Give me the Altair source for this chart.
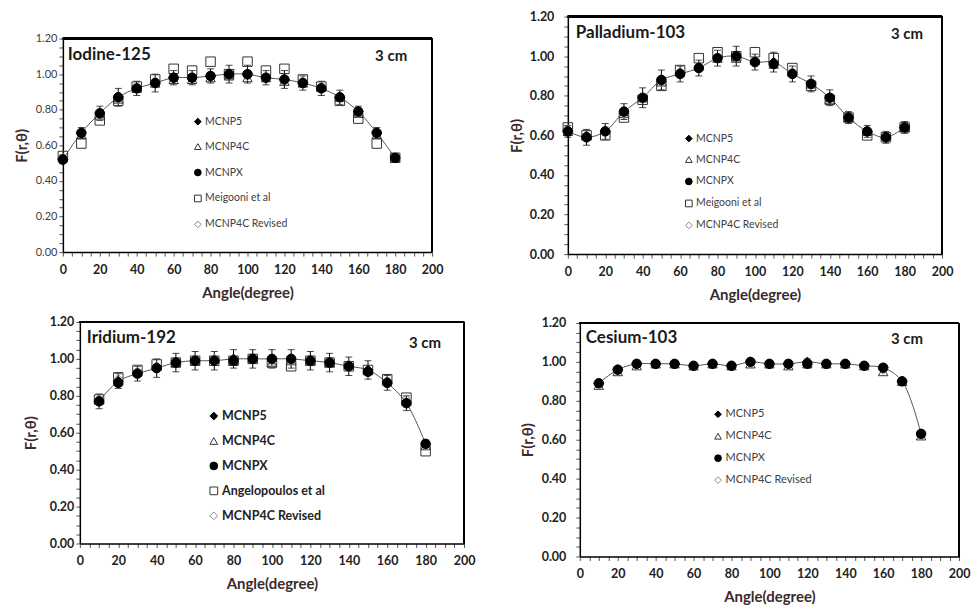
import altair as alt
import pandas as pd

FONT = "Lato"

# ---------------- data ----------------
angles_full = [0, 10, 20, 30, 40, 50, 60, 70, 80, 90, 100, 110, 120, 130, 140, 150, 160, 170, 180]
angles_part = [10, 20, 30, 40, 50, 60, 70, 80, 90, 100, 110, 120, 130, 140, 150, 160, 170, 180]

# Iodine-125
i_mcnp5 = [0.52, 0.67, 0.78, 0.87, 0.92, 0.95, 0.98, 0.98, 0.99, 1.00, 1.00, 0.98, 0.97, 0.95, 0.92, 0.87, 0.79, 0.67, 0.53]
i_mcnp4c = [0.53, 0.66, 0.77, 0.86, 0.92, 0.95, 0.97, 0.97, 0.98, 0.99, 0.98, 0.98, 0.96, 0.95, 0.93, 0.87, 0.78, 0.66, 0.53]
i_mcnpx = [0.52, 0.67, 0.78, 0.87, 0.92, 0.95, 0.98, 0.98, 0.99, 1.00, 1.00, 0.98, 0.97, 0.95, 0.92, 0.87, 0.79, 0.67, 0.53]
i_ref = [0.54, 0.61, 0.74, 0.85, 0.93, 0.97, 1.03, 1.02, 1.07, 1.00, 1.07, 1.02, 1.03, 0.97, 0.93, 0.85, 0.75, 0.61, 0.53]
i_rev = [0.53, 0.67, 0.77, 0.86, 0.92, 0.96, 0.98, 0.98, 0.99, 1.00, 0.99, 0.98, 0.97, 0.96, 0.93, 0.87, 0.78, 0.67, 0.53]
i_err = [0.02, 0.03, 0.04, 0.05, 0.04, 0.05, 0.04, 0.04, 0.04, 0.05, 0.05, 0.04, 0.05, 0.04, 0.04, 0.04, 0.03, 0.03, 0.02]

# Palladium-103
p_mcnp5 = [0.62, 0.59, 0.62, 0.72, 0.79, 0.88, 0.91, 0.94, 0.99, 1.00, 0.97, 0.97, 0.91, 0.86, 0.79, 0.69, 0.62, 0.59, 0.64]
p_mcnp4c = [0.62, 0.60, 0.63, 0.71, 0.79, 0.87, 0.92, 0.95, 0.99, 0.99, 0.98, 0.96, 0.92, 0.86, 0.78, 0.69, 0.62, 0.60, 0.64]
p_mcnpx = [0.62, 0.59, 0.62, 0.72, 0.79, 0.88, 0.91, 0.94, 0.99, 1.00, 0.97, 0.96, 0.91, 0.86, 0.79, 0.69, 0.62, 0.59, 0.64]
p_ref = [0.64, 0.60, 0.60, 0.69, 0.78, 0.85, 0.93, 0.99, 1.02, 1.00, 1.02, 0.99, 0.94, 0.85, 0.78, 0.69, 0.60, 0.59, 0.64]
p_rev = [0.63, 0.60, 0.62, 0.71, 0.79, 0.87, 0.92, 0.95, 0.99, 1.00, 0.98, 0.97, 0.92, 0.86, 0.79, 0.69, 0.62, 0.59, 0.64]
p_err = [0.03, 0.04, 0.04, 0.04, 0.05, 0.05, 0.04, 0.04, 0.04, 0.05, 0.04, 0.05, 0.04, 0.04, 0.04, 0.03, 0.03, 0.03, 0.03]

# Iridium-192
r_mcnp5 = [0.77, 0.88, 0.92, 0.95, 0.98, 0.99, 0.99, 1.00, 1.00, 1.00, 1.00, 0.99, 0.98, 0.96, 0.94, 0.87, 0.76, 0.54]
r_mcnp4c = [0.78, 0.88, 0.93, 0.96, 0.98, 0.99, 1.00, 0.99, 1.00, 0.98, 0.99, 0.99, 0.98, 0.97, 0.94, 0.88, 0.77, 0.53]
r_mcnpx = [0.77, 0.87, 0.92, 0.95, 0.98, 0.99, 0.99, 0.99, 1.00, 1.00, 1.00, 0.99, 0.98, 0.96, 0.93, 0.87, 0.76, 0.54]
r_ref = [0.78, 0.90, 0.94, 0.97, 0.98, 0.99, 0.99, 0.99, 1.00, 0.98, 0.96, 0.99, 0.98, 0.96, 0.94, 0.89, 0.79, 0.50]
r_rev = [0.78, 0.89, 0.93, 0.96, 0.98, 0.99, 1.00, 1.00, 1.00, 0.98, 0.99, 0.99, 0.98, 0.97, 0.94, 0.88, 0.78, 0.53]
r_err = [0.04, 0.04, 0.04, 0.05, 0.05, 0.05, 0.05, 0.05, 0.05, 0.05, 0.05, 0.05, 0.05, 0.05, 0.05, 0.04, 0.04, 0.02]

# Cesium-103
c_mcnp5 = [0.89, 0.96, 0.99, 0.99, 0.99, 0.98, 0.99, 0.98, 1.00, 0.99, 0.99, 1.00, 0.99, 0.99, 0.98, 0.97, 0.90, 0.63]
c_mcnp4c = [0.88, 0.95, 0.98, 0.99, 0.99, 0.98, 0.99, 0.98, 0.99, 0.99, 0.98, 0.99, 0.99, 0.99, 0.98, 0.95, 0.90, 0.62]
c_mcnpx = [0.89, 0.96, 0.99, 0.99, 0.99, 0.98, 0.99, 0.98, 1.00, 0.99, 0.99, 0.99, 0.99, 0.99, 0.98, 0.97, 0.90, 0.63]
c_rev = [0.89, 0.96, 0.99, 0.99, 0.99, 0.98, 0.99, 0.98, 1.00, 0.99, 0.99, 1.00, 0.99, 0.99, 0.98, 0.96, 0.90, 0.63]
c_err = [0.015, 0.015, 0.015, 0.015, 0.015, 0.015, 0.015, 0.015, 0.015, 0.015, 0.015, 0.015, 0.015, 0.015, 0.015, 0.015, 0.015, 0.015]

x_ticks = list(range(0, 201, 5))
y_ticks = [round(v * 0.05, 2) for v in range(0, 25)]
X_MAX, Y_MAX = 200, 1.2


def panel(title, angles, mcnp5, mcnp4c, mcnpx, ref, ref_name, rev, err,
          width, height, x0, y0, ylab_bold, ylab_size, ylab_pad, ytitle_pad,
          leg_x, leg_y, leg_font, leg_bold, leg_row, leg_sym,
          name_xy, cm_xy):
    series = [("MCNP5", mcnp5), ("MCNP4C", mcnp4c), ("MCNPX", mcnpx)]
    if ref is not None:
        series.append((ref_name, ref))
    series.append(("MCNP4C Revised", rev))
    domain = [s[0] for s in series]
    shapes = {"MCNP5": "diamond", "MCNP4C": "triangle-up", "MCNPX": "circle",
              "MCNP4C Revised": "diamond"}
    fills = {"MCNP5": "black", "MCNP4C": "transparent", "MCNPX": "black",
             "MCNP4C Revised": "transparent"}
    strokes = {"MCNP5": "black", "MCNP4C": "#333333", "MCNPX": "black",
               "MCNP4C Revised": "#8a8a8a"}
    if ref is not None:
        shapes[ref_name] = "square"
        fills[ref_name] = "transparent"
        strokes[ref_name] = "#333333"

    draw_order = ([ref_name] if ref is not None else []) + ["MCNP4C", "MCNP4C Revised", "MCNPX", "MCNP5"]
    vals = dict(series)
    rows = []
    for k, name in enumerate(draw_order):
        for a, v in zip(angles, vals[name]):
            rows.append({"angle": a, "F": v, "series": name, "o": k})
    pts = pd.DataFrame(rows)

    base_df = pd.DataFrame({"angle": angles, "F": mcnp5,
                            "lo": [v - e for v, e in zip(mcnp5, err)],
                            "hi": [v + e for v, e in zip(mcnp5, err)]})

    xsc = alt.Scale(domain=[0, X_MAX], range=[x0, width], nice=False)
    ysc = alt.Scale(domain=[0, Y_MAX], range=[height, y0], nice=False)
    xax = alt.Axis(values=x_ticks, title="Angle(degree)",
                   labelExpr="datum.value % 20 == 0 ? format(datum.value, 'd') : ''",
                   labelFont=FONT, labelFontSize=12.5, labelFontWeight="bold", labelColor="#222222",
                   labelPadding=7, tickSize=4, tickColor="#555555",
                   titleFont=FONT, titleFontSize=15, titleFontWeight="bold", titleColor="#3a2a2a",
                   titlePadding=10, domainColor="black", domainWidth=1.5, grid=False,
                   labelOverlap=False, labelFlush=False)
    yax_kw = dict(values=y_ticks, title="F(r,θ)",
                  labelExpr="round(datum.value * 100) % 20 == 0 ? format(datum.value, '.2f') : ''",
                  labelFont=FONT, labelFontSize=ylab_size,
                  labelFontWeight="bold" if ylab_bold else "normal",
                  labelColor="#222222" if ylab_bold else "#404040",
                  labelPadding=ylab_pad, tickSize=4, tickColor="#555555",
                  titleFont=FONT, titleFontSize=15, titleFontWeight="bold", titleColor="#3a2a2a",
                  titlePadding=ytitle_pad, domainColor="black", domainWidth=1.5, grid=False,
                  labelOverlap=False, labelFlush=False)
    if x0 > 0:
        yax_kw["offset"] = -x0
    yax = alt.Axis(**yax_kw)
    X = alt.X("angle:Q", scale=xsc, axis=xax)
    Y = alt.Y("F:Q", scale=ysc, axis=yax)

    # frame (top and right edges) in data coordinates
    top_edge = alt.Chart(base_df).mark_rule(color="black", strokeWidth=1.5).encode(
        x=alt.datum(0, scale=xsc, axis=xax), x2=alt.datum(X_MAX), y=alt.datum(Y_MAX, scale=ysc, axis=yax))
    right_edge = alt.Chart(base_df).mark_rule(color="black", strokeWidth=1.5).encode(
        x=alt.datum(X_MAX, scale=xsc, axis=xax), y=alt.datum(0, scale=ysc, axis=yax), y2=alt.datum(Y_MAX))

    line = alt.Chart(base_df).mark_line(interpolate="catmull-rom", color="#555555", strokeWidth=1).encode(
        x=X, y=Y)
    bars = alt.Chart(base_df).mark_rule(color="black", strokeWidth=1).encode(
        x=X, y=alt.Y("lo:Q", scale=ysc, axis=yax), y2="hi:Q")
    cap_lo = alt.Chart(base_df).mark_tick(color="black", orient="horizontal", size=7, thickness=1).encode(
        x=X, y=alt.Y("lo:Q", scale=ysc, axis=yax))
    cap_hi = alt.Chart(base_df).mark_tick(color="black", orient="horizontal", size=7, thickness=1).encode(
        x=X, y=alt.Y("hi:Q", scale=ysc, axis=yax))

    leg = alt.Legend(title=None, orient="none", legendX=leg_x + x0, legendY=leg_y + y0, padding=0,
                     labelFont=FONT, labelFontSize=leg_font,
                     labelFontWeight="bold" if leg_bold else "normal",
                     labelColor="#222222" if leg_bold else "#404040",
                     rowPadding=leg_row, symbolSize=leg_sym, symbolStrokeWidth=1,
                     labelOffset=2, labelLimit=200, symbolOpacity=1)
    points = alt.Chart(pts).mark_point(size=90, strokeWidth=1, opacity=1).encode(
        x=X, y=Y,
        shape=alt.Shape("series:N", scale=alt.Scale(domain=domain, range=[shapes[d] for d in domain]), legend=leg),
        fill=alt.Fill("series:N", scale=alt.Scale(domain=domain, range=[fills[d] for d in domain]), legend=leg),
        stroke=alt.Stroke("series:N", scale=alt.Scale(domain=domain, range=[strokes[d] for d in domain]), legend=leg),
        order="o:Q",
    )
    name_txt = alt.Chart(pd.DataFrame({"t": [title]})).mark_text(
        align="left", baseline="middle", font=FONT, fontSize=17, fontWeight="bold", color="#1a1a1a").encode(
        text="t:N", x=alt.value(name_xy[0] + x0), y=alt.value(name_xy[1] + y0))
    cm_txt = alt.Chart(pd.DataFrame({"t": ["3 cm"]})).mark_text(
        align="right", baseline="middle", font=FONT, fontSize=15, fontWeight="bold", color="#1a1a1a").encode(
        text="t:N", x=alt.value(cm_xy[0] + x0), y=alt.value(cm_xy[1] + y0))

    return alt.layer(top_edge, right_edge, line, bars, cap_lo, cap_hi, points, name_txt, cm_txt).properties(
        width=width, height=height)


iodine = panel("Iodine-125", angles_full, i_mcnp5, i_mcnp4c, i_mcnpx, i_ref, "Meigooni et al", i_rev, i_err,
               370, 236, 0, 22, False, 11, 2, 6,
               130, 78, 10.5, False, 14, 45,
               (5, 16), (345, 18))
palladium = panel("Palladium-103", angles_full, p_mcnp5, p_mcnp4c, p_mcnpx, p_ref, "Meigooni et al", p_rev, p_err,
                  375, 238, 0, 0, True, 12.5, 10, 5,
                  116, 117, 10.5, False, 10, 45,
                  (8, 16), (356, 17))
iridium = panel("Iridium-192", angles_part, r_mcnp5, r_mcnp4c, r_mcnpx, r_ref, "Angelopoulos et al", r_rev, r_err,
                402, 222, 17, 0, True, 12.5, 2, 11,
                128, 88, 12.5, True, 12, 60,
                (7, 16), (362, 21))
cesium = panel("Cesium-103", angles_part, c_mcnp5, c_mcnp4c, c_mcnpx, None, "", c_rev, c_err,
               392, 234, 12, 0, True, 12.5, 10, 6,
               133, 86, 11, False, 10, 45,
               (6, 15), (344, 16))

res = dict(shape="independent", fill="independent", stroke="independent")
left = alt.concat(iodine, iridium, columns=1, spacing=15).resolve_scale(**res).resolve_legend(**res)
right = alt.concat(palladium, cesium, columns=1, spacing=14).resolve_scale(**res).resolve_legend(**res)
chart = alt.hconcat(left, right, spacing=34).resolve_scale(**res).resolve_legend(**res).properties(
    padding={"left": 14, "top": 10, "right": 2, "bottom": 0},
    background="white",
).configure_view(stroke="transparent", strokeWidth=0).configure_axis(labelOverlap=False)

chart.save("out.html", embed_options={"renderer": "svg", "actions": False})
